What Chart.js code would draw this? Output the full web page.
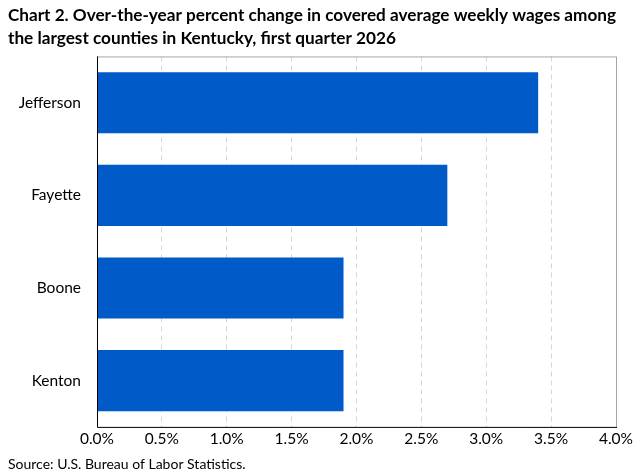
<!DOCTYPE html>
<html><head><meta charset="utf-8">
<script src="https://cdn.jsdelivr.net/npm/chart.js@4"></script>
<style>html,body{margin:0;padding:0;background:#fff}#wrap{width:643px;height:473px;position:relative}</style>
</head><body><div id="wrap"><canvas id="c"></canvas></div>
<script>
const categories = ['Jefferson', 'Fayette', 'Boone', 'Kenton'];
const values = [3.4, 2.7, 1.9, 1.9];
const xTickLabels = ['0.0%', '0.5%', '1.0%', '1.5%', '2.0%', '2.5%', '3.0%', '3.5%', '4.0%'];
const titleLines = ['Chart 2. Over-the-year percent change in covered average weekly wages among',
                    'the largest counties in Kentucky, first quarter 2026'];
const sourceText = 'Source: U.S. Bureau of Labor Statistics.';

const FONT = 'Lato, "Liberation Sans", sans-serif';

const frame = {
  id: 'frame',
  afterDatasetsDraw(chart) {
    const {ctx, chartArea: a} = chart;
    ctx.save();
    ctx.lineWidth = 1;
    ctx.strokeStyle = '#a6a6a6';
    ctx.beginPath();
    ctx.moveTo(a.left, a.top + 0.5); ctx.lineTo(a.right + 0.5, a.top + 0.5);
    ctx.lineTo(a.right + 0.5, a.bottom);
    ctx.stroke();
    ctx.strokeStyle = '#000';
    ctx.beginPath();
    ctx.moveTo(a.left + 0.5, a.top); ctx.lineTo(a.left + 0.5, a.bottom + 0.5);
    ctx.lineTo(a.right + 1, a.bottom + 0.5);
    ctx.stroke();
    ctx.restore();
  }
};

new Chart(document.getElementById('c'), {
  type: 'bar',
  data: {
    labels: categories,
    datasets: [{ data: values, backgroundColor: '#005ac8', barPercentage: 0.66, categoryPercentage: 1 }]
  },
  options: {
    indexAxis: 'y',
    responsive: true,
    maintainAspectRatio: false,
    animation: false,
    layout: { padding: { left: 8, right: 27, top: 0, bottom: 0 } },
    plugins: {
      legend: { display: false },
      tooltip: { enabled: false },
      title: {
        display: true, text: titleLines, align: 'start', color: '#000',
        font: { family: FONT, size: 17.2, weight: 'bold', lineHeight: 1.35 },
        padding: { top: 4, bottom: 6 }
      },
      subtitle: {
        display: true, text: sourceText, position: 'bottom', align: 'start', color: '#000',
        font: { family: FONT, size: 14, lineHeight: 1.15 },
        padding: { top: 0, bottom: 0 }
      }
    },
    scales: {
      x: {
        min: 0, max: 4,
        ticks: { stepSize: 0.5, color: '#000', padding: 3, font: { family: FONT, size: 15.5 },
          callback: (v, i) => xTickLabels[i] },
        grid: { color: '#d6d6d6', drawTicks: false, tickLength: 0 },
        border: { display: false, dash: [5, 4] },
        afterFit: s => { s.height = 30; }
      },
      y: {
        ticks: { color: '#000', padding: 16, font: { family: FONT, size: 15.5 } },
        grid: { display: false, drawTicks: false },
        border: { display: false },
        afterFit: s => { s.width = 89; }
      }
    }
  },
  plugins: [frame]
});
</script>
</body></html>
